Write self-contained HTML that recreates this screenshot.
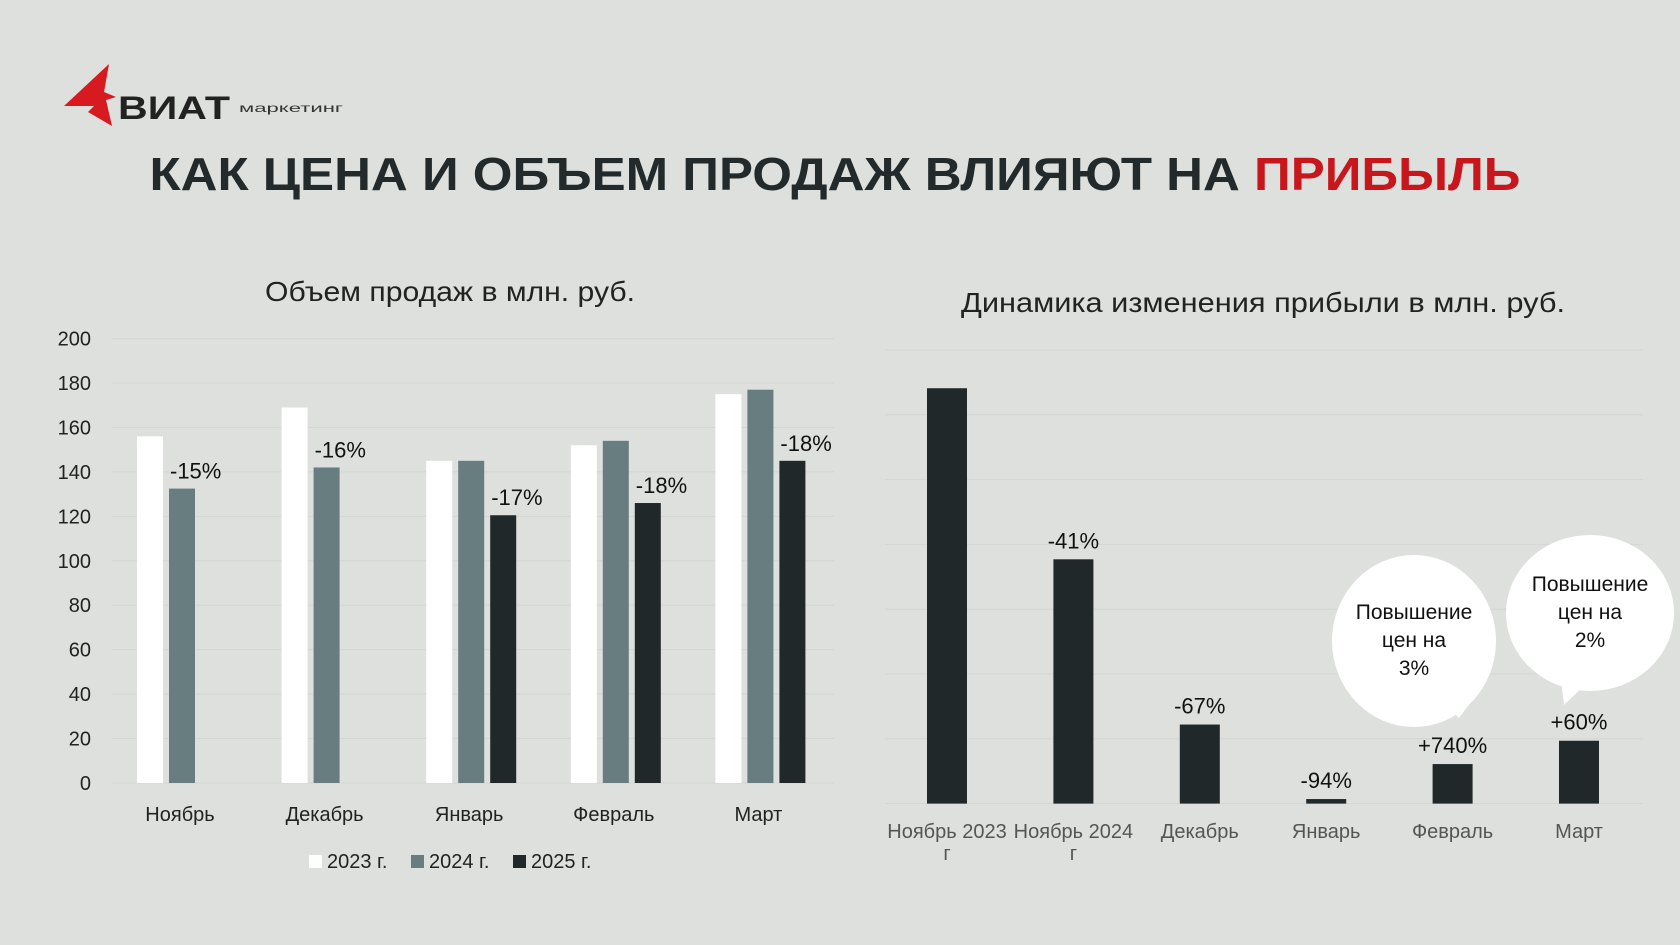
<!DOCTYPE html>
<html><head><meta charset="utf-8"><style>
html,body{margin:0;padding:0;background:#dde0dd;}
svg{display:block;font-family:"Liberation Sans",sans-serif;}
</style></head><body>
<svg id="s" width="1680" height="945" viewBox="0 0 1680 945" xmlns="http://www.w3.org/2000/svg">
<rect width="1680" height="945" fill="#dde0dd"/>
<g>
<polygon points="109,64 64,106 94,106 88,112 112,126 106,100 116,97 104,92" fill="#d71920"/>
<text x="118" y="119" font-size="32" font-weight="bold" fill="#222" textLength="112" lengthAdjust="spacingAndGlyphs">ВИАТ</text>
<text x="239" y="112" font-size="12" fill="#333" textLength="104" lengthAdjust="spacingAndGlyphs">маркетинг</text>
</g>
<text x="835" y="190" text-anchor="middle" font-size="46" font-weight="bold" fill="#222a2b" textLength="1371" lengthAdjust="spacingAndGlyphs">КАК ЦЕНА И ОБЪЕМ ПРОДАЖ ВЛИЯЮТ НА <tspan fill="#c8161d">ПРИБЫЛЬ</tspan></text>
<text x="450" y="301" text-anchor="middle" font-size="28" fill="#222" textLength="370" lengthAdjust="spacingAndGlyphs">Объем продаж в млн. руб.</text>
<text x="1263" y="312" text-anchor="middle" font-size="28" fill="#222" textLength="604" lengthAdjust="spacingAndGlyphs">Динамика изменения прибыли в млн. руб.</text>
<g id="left"></g>
<g id="right"></g>
</svg>
<script>
const months=["Ноябрь","Декабрь","Январь","Февраль","Март"];
const s2023=[156,169,145,152,175];
const s2024=[132.5,142,145,154,177];
const s2025=[null,null,120.5,126,145];
const leftLabels=["-15%","-16%","-17%","-18%","-18%"];
const yTicks=[0,20,40,60,80,100,120,140,160,180,200];
const seriesNames=["2023 г.","2024 г.","2025 г."];

const profitCats=["Ноябрь 2023 г","Ноябрь 2024 г","Декабрь","Январь","Февраль","Март"];
const profitVals=[6.41,3.77,1.22,0.07,0.61,0.97];
const profitLabels=["","-41%","-67%","-94%","+740%","+60%"];
const profitGrid=[0,1,2,3,4,5,6,7];

const NS="http://www.w3.org/2000/svg";
function mk(p,tag,a,txt){const e=document.createElementNS(NS,tag);for(const k in a)e.setAttribute(k,a[k]);if(txt!==undefined)e.textContent=txt;p.appendChild(e);return e;}

// left chart
const L=document.getElementById('left');
const ly=v=>783-v*(783-338.6)/200;
const lx=i=>182+i*144.6;
const colors=["#ffffff","#687d80","#212829"];
yTicks.forEach(t=>{
 const g=mk(L,'line',{x1:112,x2:834,y1:ly(t),y2:ly(t),stroke:'#d3d6d3','stroke-width':1});
 
 
 const tx=mk(L,'text',{x:91,y:ly(t)+7,'text-anchor':'end','font-size':20,fill:'#222'},t);
 
 
});
const series=[s2023,s2024,s2025];
months.forEach((m,i)=>{
 let topBar=null;
 series.forEach((sv,k)=>{
  if(sv[i]==null)return;
  const x=lx(i)+(k-1)*32-13;
  const r=mk(L,'rect',{x:x,y:ly(sv[i]),width:26,height:ly(0)-ly(sv[i]),fill:colors[k]});
  
  
  topBar={x:x,y:ly(sv[i])};
 });
 const lb=mk(L,'text',{x:topBar.x+1,y:topBar.y-10,'font-size':22,fill:'#111'},leftLabels[i]);
 
 
 const ct=mk(L,'text',{x:lx(i)-2,y:821,'text-anchor':'middle','font-size':20,fill:'#222'},m);
 
 
});
const legX=[309,411,513];
seriesNames.forEach((n,k)=>{
 const r=mk(L,'rect',{x:legX[k],y:855,width:13,height:13,fill:colors[k]});
 
 
 const t=mk(L,'text',{x:legX[k]+18,y:868,'font-size':20,fill:'#222'},n);
 
 
});

// right chart
const R=document.getElementById('right');
const ry=v=>803.6-v*64.8;
const rx=i=>947+i*126.4;
profitGrid.forEach(t=>{
 const g=mk(R,'line',{x1:885,x2:1643,y1:ry(t),y2:ry(t),stroke:'#d3d6d3','stroke-width':1});
 
 
});
profitCats.forEach((c,i)=>{
 const r=mk(R,'rect',{x:rx(i)-20,y:ry(profitVals[i]),width:40,height:ry(0)-ry(profitVals[i]),fill:'#212829'});
 
 
 if(profitLabels[i]){
  const t=mk(R,'text',{x:rx(i),y:ry(profitVals[i])-11,'text-anchor':'middle','font-size':22,fill:'#111'},profitLabels[i]);
  
  
 }
 const parts=c.endsWith(' г')?[c.slice(0,-2),'г']:[c];
 parts.forEach((p,j)=>{
  const t=mk(R,'text',{x:rx(i),y:838+j*22,'text-anchor':'middle','font-size':20,fill:'#555'},p);
  
  
 });
});
function bubble(cx,cy,rxx,ryy,tail,lines,name){
 const g=mk(R,'g',{});
 
 
 mk(g,'ellipse',{cx:cx,cy:cy,rx:rxx,ry:ryy,fill:'#fff'});
 mk(g,'polygon',{points:tail,fill:'#fff'});
 lines.forEach((l,j)=>mk(g,'text',{x:cx,y:cy-22+j*28,'text-anchor':'middle','font-size':21,fill:'#111'},l));
}
bubble(1414,641,82,86,"1440,700 1480,690 1459,718",["Повышение","цен на","3%"],'callout-february');
bubble(1590,613,84,78,"1560,670 1590,680 1564,705",["Повышение","цен на","2%"],'callout-march');
</script>
</body></html>
